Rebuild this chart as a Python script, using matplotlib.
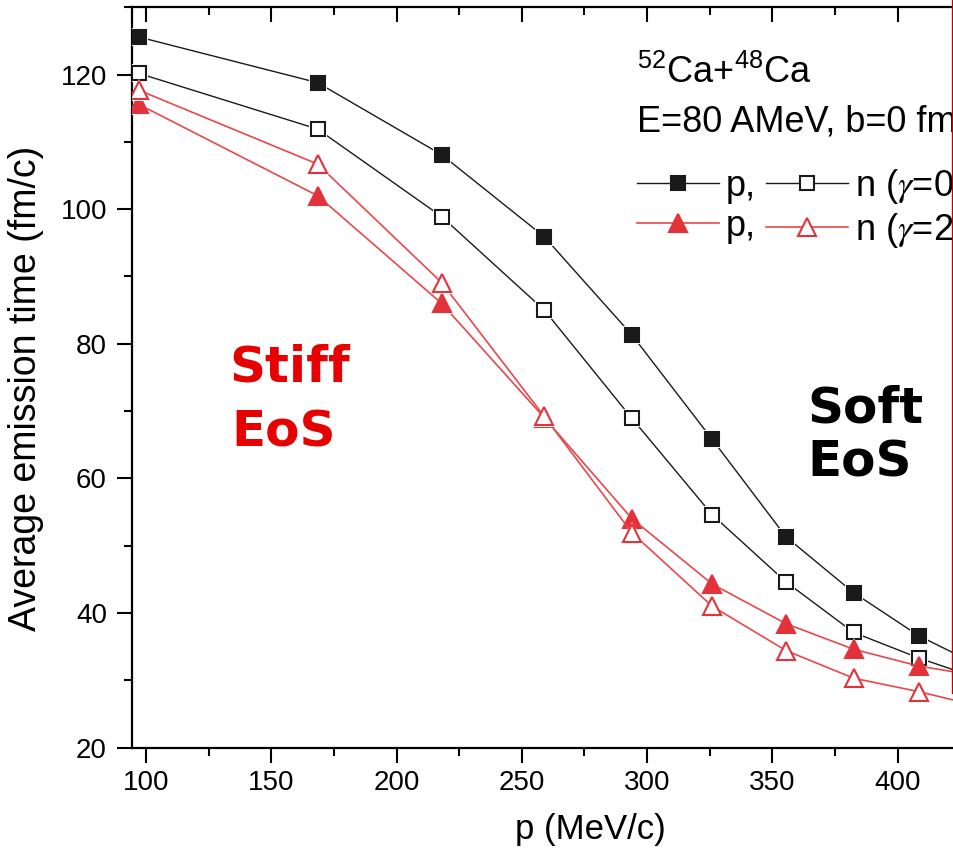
import matplotlib
matplotlib.use("Agg")
import matplotlib.pyplot as plt
from matplotlib.lines import Line2D
from matplotlib.ticker import MultipleLocator

plt.rcParams['font.family'] = ['Liberation Sans', 'DejaVu Sans']
plt.rcParams['mathtext.rm'] = 'Liberation Sans'
plt.rcParams['mathtext.it'] = 'Liberation Sans:italic'
plt.rcParams['mathtext.bf'] = 'Liberation Sans:bold'
plt.rcParams['mathtext.sf'] = 'Liberation Sans'

# ---- data ----
p_mom = [97, 168.5, 218, 259, 294, 326, 355.5, 382.5, 408.5, 433]
p_soft = [125.6, 118.8, 108.1, 95.9, 81.3, 65.8, 51.3, 43.0, 36.6, 32.1]
n_soft = [120.2, 111.9, 98.9, 85.0, 68.9, 54.6, 44.6, 37.1, 33.3, 30.2]
p_stiff = [115.6, 102.0, 86.0, 69.0, 54.0, 44.3, 38.4, 34.6, 32.1, 30.6]
n_stiff = [117.7, 106.7, 89.1, 69.2, 51.9, 41.0, 34.4, 30.3, 28.3, 26.1]
xticks = [100, 150, 200, 250, 300, 350, 400]
yticks = [20, 40, 60, 80, 100, 120]

W, H = 954, 859
def fx(x):
    return x / W
def fy(y):
    return 1 - y / H

fig = plt.figure(figsize=(W / 100, H / 100), dpi=100)
ax_l, ax_r, ax_t, ax_b = 132, 952.7, 7.3, 747.5
ax = fig.add_axes([fx(ax_l), fy(ax_b), (ax_r - ax_l) / W, (ax_b - ax_t) / H])

BLACK = '#1a1a1a'
RED = '#E2323A'
RED_L = '#E8474D'

def series(y, marker, ms, mfc, mec, lc, lw, z):
    ax.plot(p_mom, y, '-', color=lc, lw=lw, zorder=z)
    ax.plot(p_mom, y, linestyle='none', marker=marker, ms=ms + 3.5, mfc='white',
            mec='white', mew=0, zorder=z + 0.1)
    ax.plot(p_mom, y, linestyle='none', marker=marker, ms=ms, mfc=mfc, mec=mec,
            mew=1.5, zorder=z + 0.2)

series(p_soft, 's', 10, BLACK, BLACK, BLACK, 1.0, 3)
series(n_soft, 's', 10, 'white', BLACK, BLACK, 1.0, 4)
series(p_stiff, '^', 13, RED, RED, RED_L, 1.2, 5)
series(n_stiff, '^', 13, 'white', RED, RED_L, 1.2, 6)

ax.set_xlim(94.4, 100 + (ax_r - 146) / 2.505)
ax.set_ylim(20, 130)
ax.set_xticks(xticks)
ax.set_yticks(yticks)
ax.xaxis.set_minor_locator(MultipleLocator(25))
ax.yaxis.set_minor_locator(MultipleLocator(10))

for s in ['left', 'bottom', 'top']:
    ax.spines[s].set_linewidth(1.6)
    ax.spines[s].set_color('black')
ax.spines['right'].set_visible(False)

ax.tick_params(axis='x', which='both', bottom=True, top=True, labeltop=False,
               direction='out', width=1.5, labelsize=20, pad=5)
ax.tick_params(axis='x', which='major', length=11)
ax.tick_params(axis='x', which='minor', length=5.5)
ax.tick_params(axis='y', which='both', left=True, right=False, direction='out',
               width=1.5, labelsize=20, pad=7.5)
ax.tick_params(axis='y', which='major', length=10.5)
ax.tick_params(axis='y', which='minor', length=5.5)
# top ticks point inward (downwards)
for t in ax.xaxis.get_major_ticks() + ax.xaxis.get_minor_ticks():
    t.tick2line.set_marker(3)

ax.set_xlabel('p (MeV/c)', fontsize=25)
ax.xaxis.set_label_coords((590 - ax_l) / (ax_r - ax_l), -(813 - ax_b) / (ax_b - ax_t))
ax.set_ylabel('Average emission time (fm/c)', fontsize=27)
ax.yaxis.set_label_coords((44 - ax_l) / (ax_r - ax_l), (ax_b - 388) / (ax_b - ax_t))

# text block (clipped to axes like the cropped original)
ax.text(fx(637), fy(83.3), r'$^{52}$Ca+$^{48}$Ca', transform=fig.transFigure,
        fontsize=26, clip_on=True, math_fontfamily='custom', va='baseline')
ax.text(fx(637), fy(131.7), 'E=80 AMeV, b=0 fm', transform=fig.transFigure,
        fontsize=26, clip_on=True, va='baseline')

hs = [
    Line2D([], [], color=BLACK, lw=1.0, marker='s', ms=10, mfc=BLACK, mec=BLACK, mew=1.5),
    Line2D([], [], color=RED_L, lw=1.2, marker='^', ms=13, mfc=RED, mec=RED, mew=1.5),
    Line2D([], [], color=BLACK, lw=1.0, marker='s', ms=10, mfc='white', mec=BLACK, mew=1.5),
    Line2D([], [], color=RED_L, lw=1.2, marker='^', ms=13, mfc='white', mec=RED, mew=1.5),
]
labels = ['p,', 'p,', r'n ($\gamma$=0.5)', r'n ($\gamma$=2)']
leg = ax.legend(hs, labels, ncol=2, frameon=False, fontsize=26, numpoints=1,
                handlelength=2.27, handletextpad=0.19, columnspacing=0.28,
                labelspacing=0.14, borderpad=0, borderaxespad=0, loc='upper left',
                bbox_to_anchor=(fx(636.7), fy(167)), bbox_transform=fig.transFigure)
for t in leg.get_texts():
    t.set_math_fontfamily('stix')
    t.set_clip_box(ax.bbox)
    t.set_clip_on(True)

# EoS annotations
fig.text(fx(229), fy(382), 'Stiff', color='#E60000', fontsize=36,
         fontweight='bold', family='DejaVu Sans', va='baseline')
fig.text(fx(231), fy(447), 'EoS', color='#E60000', fontsize=36,
         fontweight='bold', family='DejaVu Sans', va='baseline')
fig.text(fx(807), fy(422), 'Soft', color='black', fontsize=36,
         fontweight='bold', family='DejaVu Sans', va='baseline')
fig.text(fx(807), fy(477), 'EoS', color='black', fontsize=36,
         fontweight='bold', family='DejaVu Sans', va='baseline')

# red vertical border line at right
fig.add_artist(Line2D([fx(952.7), fx(952.7)], [fy(0), fy(693)],
                      transform=fig.transFigure, color='#C00000', lw=1.7))

fig.savefig('out.png', dpi=100)
